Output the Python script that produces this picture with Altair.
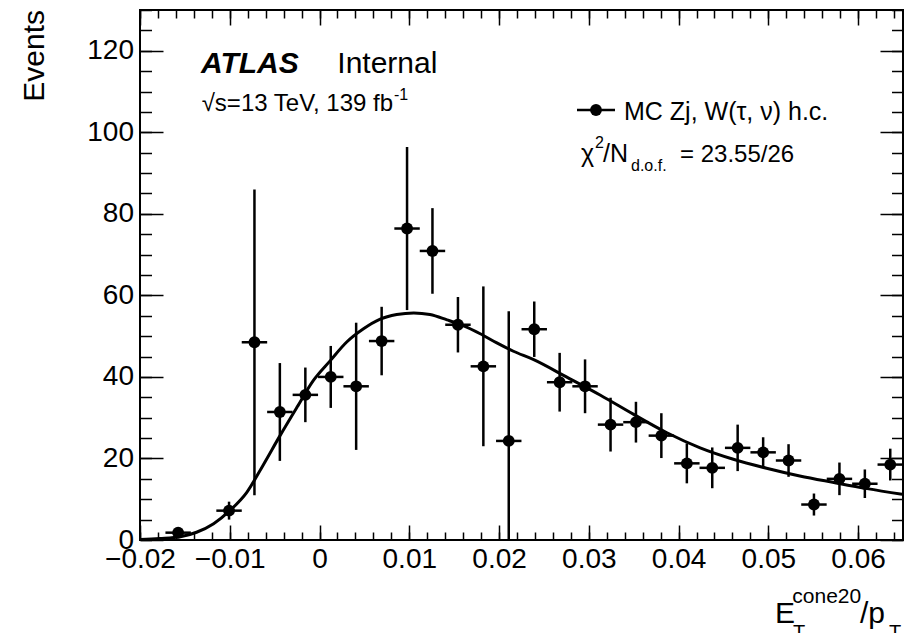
import altair as alt
import pandas as pd

# ---------------- data ----------------
bin_width = 0.0028333

x_center = [-0.01575, -0.01008, -0.00725, -0.00442, -0.00158, 0.00125, 0.00408,
            0.00692, 0.00975, 0.01258, 0.01542, 0.01825, 0.02108, 0.02392,
            0.02675, 0.02958, 0.03242, 0.03525, 0.03808, 0.04092, 0.04375,
            0.04658, 0.04942, 0.05225, 0.05508, 0.05792, 0.06075, 0.06358]
y_val = [1.8, 7.2, 48.5, 31.4, 35.6, 40.0, 37.7, 48.8, 76.4, 70.9, 52.8, 42.6,
         24.3, 51.7, 38.7, 37.7, 28.3, 28.9, 25.6, 18.8, 17.7, 22.6, 21.5,
         19.5, 8.7, 15.0, 13.8, 18.5]
y_err = [1.3, 2.2, 37.5, 12.0, 6.7, 7.6, 15.6, 8.4, 20.0, 10.5, 6.8, 19.6,
         31.8, 6.8, 7.2, 6.6, 6.6, 5.0, 5.5, 4.9, 5.0, 5.7, 3.7, 4.0, 2.7,
         4.0, 3.5, 3.9]

curve_x = [-0.0200, -0.0178, -0.0155, -0.0137, -0.0118, -0.0100, -0.0081,
           -0.0063, -0.0044, -0.0025, -0.0007, 0.0012, 0.0030, 0.0049, 0.0067,
           0.0086, 0.0105, 0.0123, 0.0142, 0.0160, 0.0179, 0.0197, 0.0216,
           0.0238, 0.0275, 0.0313, 0.0350, 0.0387, 0.0424, 0.0461, 0.0498,
           0.0535, 0.0573, 0.0610, 0.0649]
curve_y = [0.1, 0.35, 0.8, 1.9, 4.0, 7.2, 11.7, 18.3, 25.6, 32.6, 39.1, 44.0,
           48.5, 51.8, 54.1, 55.3, 55.7, 55.3, 54.0, 52.6, 50.6, 48.4, 46.3,
           44.3, 40.0, 35.5, 30.8, 26.3, 22.6, 19.8, 17.6, 15.7, 14.1, 12.6,
           11.2]

x_major = [-0.02, -0.01, 0, 0.01, 0.02, 0.03, 0.04, 0.05, 0.06]
y_major = [0, 20, 40, 60, 80, 100, 120]
x_minor = [round(-0.02 + 0.002 * i, 3) for i in range(43)]
y_minor = list(range(0, 131, 5))

pts = pd.DataFrame({"x": x_center, "y": y_val, "err": y_err})
pts["lo"] = pts["y"] - pts["err"]
pts["hi"] = pts["y"] + pts["err"]
pts["xl"] = pts["x"] - bin_width / 2
pts["xr"] = pts["x"] + bin_width / 2
curve = pd.DataFrame({"x": curve_x, "y": curve_y})

FONT = "Liberation Sans"
xs = alt.Scale(domain=[-0.02, 0.065], nice=False, zero=False)
ys = alt.Scale(domain=[0, 130], nice=False, zero=False)


def axis(values, size, orient, labels, is_x):
    kw = dict(values=values, orient=orient, offset=-size, tickSize=size,
              tickWidth=1.5, tickColor="black", domain=False, grid=False,
              title="")
    if labels:
        kw.update(labelFont=FONT, labelFontSize=28, labelColor="black",
                  labelFlush=False, labelOverlap=False)
        if is_x:
            kw.update(labelPadding=5,
                      labelExpr="datum.value == 0 ? '0' : format(datum.value, '.2f')")
        else:
            kw.update(labelPadding=6.5)
    else:
        kw.update(labels=False)
    return alt.Axis(**kw)


line = alt.Chart(curve).mark_line(color="black", strokeWidth=3,
                                  interpolate="monotone", clip=True).encode(
    x=alt.X("x:Q", scale=xs, axis=axis(x_major, 15, "bottom", True, True)),
    y=alt.Y("y:Q", scale=ys, axis=axis(y_major, 23, "left", True, False)),
)

vbars = alt.Chart(pts).mark_rule(color="black", strokeWidth=2.5, clip=True).encode(
    x=alt.X("x:Q", scale=xs, axis=axis(x_minor, 8, "bottom", False, True)),
    y=alt.Y("lo:Q", scale=ys, axis=axis(y_minor, 11.5, "left", False, False)),
    y2="hi:Q",
)

hbars = alt.Chart(pts).mark_rule(color="black", strokeWidth=2.5, clip=True).encode(
    x=alt.X("xl:Q", scale=xs, axis=axis(x_major, 15, "top", False, True)),
    x2="xr:Q",
    y=alt.Y("y:Q", scale=ys, axis=axis(y_major, 23, "right", False, False)),
)

dots = alt.Chart(pts).mark_circle(color="black", opacity=1, size=140).encode(
    x=alt.X("x:Q", scale=xs, axis=axis(x_minor, 8, "top", False, True)),
    y=alt.Y("y:Q", scale=ys, axis=axis(y_minor, 11.5, "right", False, False)),
)

one = alt.Data(values=[{}])


def txt(s, x, y, size, **kw):
    align = kw.pop("align", "left")
    return alt.Chart(one).mark_text(
        text=s, align=align, baseline="alphabetic", font=FONT,
        fontSize=size, color="black", **kw
    ).encode(x=alt.value(x), y=alt.value(y))


texts = [
    txt("ATLAS", 61, 63.3, 30, fontStyle="italic", fontWeight="bold"),
    txt("Internal", 197.3, 63.3, 30),
    txt("\u221as=13 TeV, 139 fb", 61.7, 101, 24),
    txt("-1", 254, 90, 16),
    txt("MC Zj, W(\u03c4, \u03bd) h.c.", 484, 110, 25),
    txt("\u03c7", 441, 151.7, 25),
    txt("2", 455, 138.3, 16),
    txt("/N", 463, 151.7, 25),
    txt("d.o.f.", 491, 160.7, 16),
    txt("= 23.55/26", 540, 151.7, 24),
    txt("Events", -96, 0, 30, angle=270, align="right"),
    txt("E", 635, 613.3, 30),
    txt("T", 653, 629.3, 20),
    txt("cone20", 652.3, 593.3, 21),
    txt("/p", 720, 613.3, 30),
    txt("T", 749, 629.3, 20),
]

leg_line = alt.Chart(one).mark_rule(color="black", strokeWidth=2.5).encode(
    x=alt.value(437), x2=alt.value(475), y=alt.value(100))
leg_dot = alt.Chart(one).mark_circle(color="black", opacity=1, size=140).encode(
    x=alt.value(456), y=alt.value(100))

chart = alt.layer(line, vbars, hbars, dots, leg_line, leg_dot, *texts).resolve_axis(
    x="independent", y="independent"
).properties(
    width=763, height=530,
    autosize=alt.AutoSizeParams(type="none"),
    padding={"left": 140, "top": 10, "right": 2, "bottom": 93},
    background="white",
).configure_view(stroke="black", strokeWidth=2)

chart.save("out.html", embed_options={"renderer": "svg", "actions": False})
